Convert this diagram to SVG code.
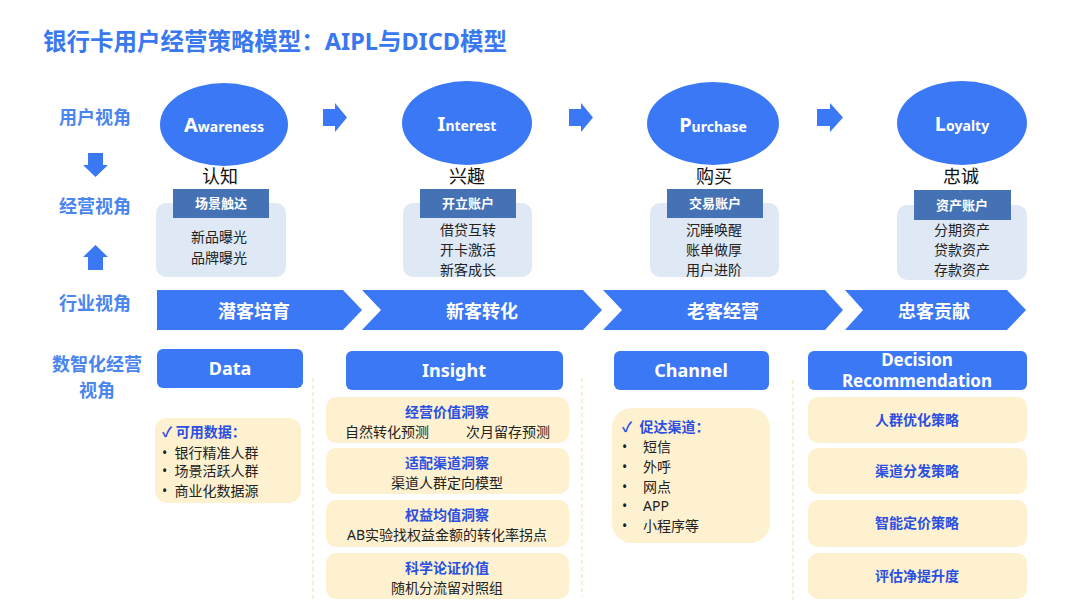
<svg xmlns="http://www.w3.org/2000/svg" width="1080" height="613" viewBox="0 0 1080 613">
<defs>
<style>
text{font-family:"Noto Sans","Noto Sans CJK SC",sans-serif;}
.title{font-size:24px;font-weight:bold;fill:#3a78f0;}
.side{font-size:18px;font-weight:bold;fill:#4a86f0;text-anchor:middle;}
.ell{fill:#3b78f5;}
.ellt{fill:#fff;font-weight:bold;text-anchor:middle;font-size:14px;}
.big{font-size:20px;}
.stage{font-size:18px;fill:#111;text-anchor:middle;}
.hdr{fill:#4472b4;}
.hdrt{fill:#fff;font-size:13px;font-weight:bold;text-anchor:middle;}
.lbox{fill:#dfe8f5;}
.lt{font-size:14px;fill:#222;text-anchor:middle;}
.arr{fill:#3b78f5;}
.chev{fill:#3b78f5;}
.chevt{fill:#fff;font-size:18px;font-weight:bold;text-anchor:middle;}
.bh{fill:#3b78f5;}
.bht{fill:#fff;font-size:18px;font-weight:bold;text-anchor:middle;}
.ybox{fill:#fdf1d0;}
.yt{font-size:14px;fill:#222;}
.yb{font-size:14px;fill:#2b4fe0;font-weight:bold;}
.mid{text-anchor:middle;}
.sep{stroke:#f5dca8;stroke-width:1;stroke-dasharray:4 3;fill:none;}
</style>
</defs>

<text class="title" x="43" y="50" textLength="464" lengthAdjust="spacingAndGlyphs">银行卡用户经营策略模型：AIPL与DICD模型</text>

<g id="side-labels">
<text class="side" x="95" y="124">用户视角</text>
<text class="side" x="95" y="213">经营视角</text>
<text class="side" x="95" y="310">行业视角</text>
<text class="side" x="97" y="371">数智化经营</text>
<text class="side" x="97" y="397">视角</text>
</g>

<g id="connectors">
<polygon class="arr" points="88,153 103,153 103,165 108,165 95.5,177 83,165 88,165"/>
<polygon class="arr" points="95.5,245 108,257 103,257 103,270 88,270 88,257 83,257"/>
<polygon class="arr" points="323,109 335,109 335,103 347,117.5 335,132 335,126 323,126"/>
<polygon class="arr" points="569,109 581,109 581,103 593,117.5 581,132 581,126 569,126"/>
<polygon class="arr" points="817,109 830,109 830,103 843,117.5 830,132 830,126 817,126"/>
<line class="sep" x1="313" y1="378" x2="313" y2="600"/>
<line class="sep" x1="582" y1="378" x2="582" y2="596"/>
<line class="sep" x1="793" y1="380" x2="793" y2="600"/>
</g>

<g id="node-awareness">
<ellipse class="ell" cx="224" cy="124.5" rx="64" ry="41.5"/>
<text class="ellt" x="224" y="132"><tspan class="big">A</tspan>wareness</text>
<text class="stage" x="220" y="183">认知</text>
<rect class="lbox" x="156" y="203" width="130" height="74" rx="10"/>
<rect class="hdr" x="173" y="189" width="96" height="29"/>
<text class="hdrt" x="221" y="208">场景触达</text>
<text class="lt" x="219" y="242">新品曝光</text>
<text class="lt" x="219" y="263">品牌曝光</text>
</g>

<g id="node-interest">
<ellipse class="ell" cx="467" cy="123" rx="65" ry="42"/>
<text class="ellt" x="467" y="131"><tspan class="big">I</tspan>nterest</text>
<text class="stage" x="467" y="183">兴趣</text>
<rect class="lbox" x="403" y="203" width="129" height="74" rx="10"/>
<rect class="hdr" x="420" y="189" width="96" height="29"/>
<text class="hdrt" x="468" y="208">开立账户</text>
<text class="lt" x="468" y="235">借贷互转</text>
<text class="lt" x="468" y="255">开卡激活</text>
<text class="lt" x="468" y="275">新客成长</text>
</g>

<g id="node-purchase">
<ellipse class="ell" cx="713" cy="123.5" rx="66" ry="41.5"/>
<text class="ellt" x="713" y="132"><tspan class="big">P</tspan>urchase</text>
<text class="stage" x="714" y="183">购买</text>
<rect class="lbox" x="650" y="203" width="129" height="74" rx="10"/>
<rect class="hdr" x="667" y="189" width="96" height="29"/>
<text class="hdrt" x="715" y="208">交易账户</text>
<text class="lt" x="714" y="235">沉睡唤醒</text>
<text class="lt" x="714" y="255">账单做厚</text>
<text class="lt" x="714" y="275">用户进阶</text>
</g>

<g id="node-loyalty">
<ellipse class="ell" cx="962" cy="123" rx="65" ry="42"/>
<text class="ellt" x="962" y="131"><tspan class="big">L</tspan>oyalty</text>
<text class="stage" x="961" y="183">忠诚</text>
<rect class="lbox" x="897" y="205" width="130" height="75" rx="10"/>
<rect class="hdr" x="914" y="190" width="97" height="30"/>
<text class="hdrt" x="962" y="210">资产账户</text>
<text class="lt" x="962" y="235">分期资产</text>
<text class="lt" x="962" y="255">贷款资产</text>
<text class="lt" x="962" y="275">存款资产</text>
</g>

<g id="node-chevrons">
<polygon class="chev" points="157,290 343,290 362,310 343,330 157,330"/>
<polygon class="chev" points="362,290 583,290 602,310 583,330 362,330 381,310"/>
<polygon class="chev" points="603,290 825,290 843,310 825,330 603,330 622,310"/>
<polygon class="chev" points="845,290 1007,290 1026,310 1007,330 845,330 863,310"/>
<text class="chevt" x="254" y="318">潜客培育</text>
<text class="chevt" x="482" y="318">新客转化</text>
<text class="chevt" x="723" y="318">老客经营</text>
<text class="chevt" x="934" y="318">忠客贡献</text>
</g>

<g id="node-data">
<rect class="bh" x="157" y="349" width="146" height="39" rx="6"/>
<text class="bht" x="230" y="375">Data</text>
<rect class="ybox" x="155" y="418" width="146" height="85" rx="12"/>
<text class="yb" x="162" y="437">✓ 可用数据：</text>
<text class="yt" x="162" y="458">•&#160;&#160;银行精准人群</text>
<text class="yt" x="162" y="476">•&#160;&#160;场景活跃人群</text>
<text class="yt" x="162" y="496">•&#160;&#160;商业化数据源</text>
</g>

<g id="node-insight">
<rect class="bh" x="346" y="351" width="217" height="39" rx="6"/>
<text class="bht" x="454" y="377">Insight</text>
<rect class="ybox" x="326" y="397" width="243" height="46" rx="10"/>
<text class="yb mid" x="447" y="417">经营价值洞察</text>
<text class="yt mid" x="387" y="437">自然转化预测</text>
<text class="yt mid" x="508" y="437">次月留存预测</text>
<rect class="ybox" x="326" y="448" width="243" height="46" rx="10"/>
<text class="yb mid" x="447" y="468">适配渠道洞察</text>
<text class="yt mid" x="447" y="488">渠道人群定向模型</text>
<rect class="ybox" x="326" y="500" width="243" height="47" rx="10"/>
<text class="yb mid" x="447" y="520">权益均值洞察</text>
<text class="yt mid" x="447" y="540">AB实验找权益金额的转化率拐点</text>
<rect class="ybox" x="326" y="553" width="243" height="46" rx="10"/>
<text class="yb mid" x="447" y="573">科学论证价值</text>
<text class="yt mid" x="447" y="593">随机分流留对照组</text>
</g>

<g id="node-channel">
<rect class="bh" x="614" y="351" width="155" height="39" rx="6"/>
<text class="bht" x="691" y="377">Channel</text>
<rect class="ybox" x="612" y="408" width="158" height="135" rx="20"/>
<text class="yb" x="622" y="432">✓&#160;&#160;促达渠道：</text>
<text class="yt" x="622" y="452">•</text><text class="yt" x="643" y="452">短信</text>
<text class="yt" x="622" y="472">•</text><text class="yt" x="643" y="472">外呼</text>
<text class="yt" x="622" y="492">•</text><text class="yt" x="643" y="492">网点</text>
<text class="yt" x="622" y="511">•</text><text class="yt" x="643" y="511">APP</text>
<text class="yt" x="622" y="531">•</text><text class="yt" x="643" y="531">小程序等</text>
</g>

<g id="node-decision">
<rect class="bh" x="808" y="351" width="219" height="39" rx="6"/>
<text class="bht" x="917" y="366" style="font-size:17px">Decision</text>
<text class="bht" x="917" y="387" style="font-size:17px">Recommendation</text>
<rect class="ybox" x="808" y="397" width="219" height="46" rx="10"/>
<text class="yb mid" x="917" y="425">人群优化策略</text>
<rect class="ybox" x="808" y="448" width="219" height="46" rx="10"/>
<text class="yb mid" x="917" y="476">渠道分发策略</text>
<rect class="ybox" x="808" y="500" width="219" height="47" rx="10"/>
<text class="yb mid" x="917" y="528">智能定价策略</text>
<rect class="ybox" x="808" y="553" width="219" height="46" rx="10"/>
<text class="yb mid" x="917" y="581">评估净提升度</text>
</g>
</svg>
